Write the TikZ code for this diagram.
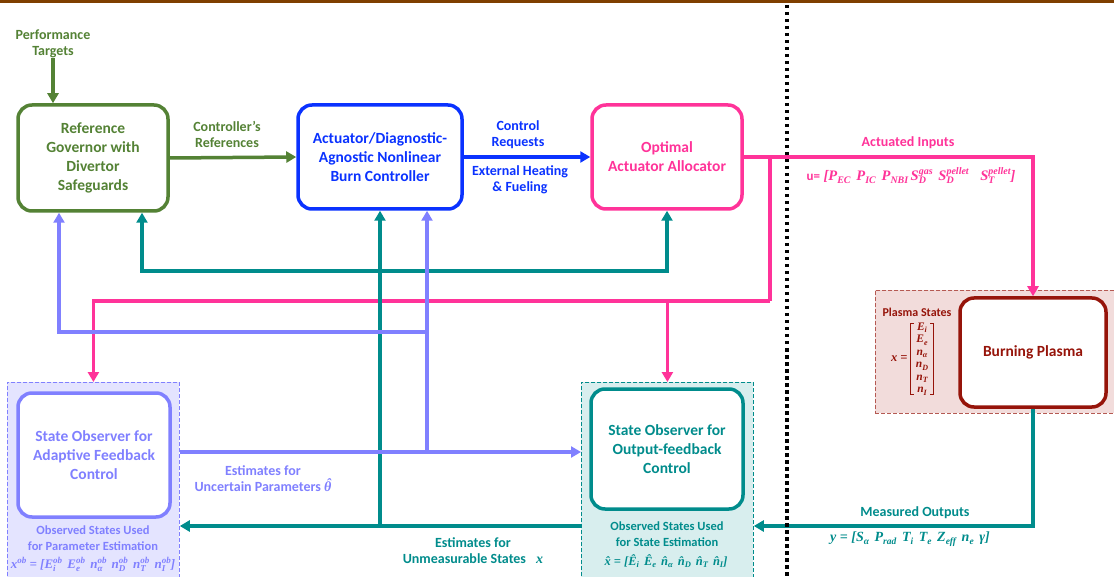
\documentclass[tikz,border=0pt]{standalone}
\usepackage{fontspec}
\setmainfont{Carlito}
\newfontfamily\fmath{Liberation Serif}
\usetikzlibrary{arrows.meta}
\definecolor{cgreen}{RGB}{84,130,53}
\definecolor{cblue}{RGB}{10,50,255}
\definecolor{cpink}{RGB}{255,51,153}
\definecolor{cteal}{RGB}{0,140,140}
\definecolor{clav}{RGB}{128,128,255}
\definecolor{cred}{RGB}{150,20,10}
\definecolor{cbrown}{RGB}{127,63,0}
\definecolor{lavfill}{RGB}{228,228,255}
\definecolor{tealfill}{RGB}{216,238,238}
\definecolor{pinkfill}{RGB}{242,220,219}
\newcommand\bxfont{\fontsize{15.5}{19}\selectfont\bfseries}
\newcommand\lbfont{\fontsize{14}{16}\selectfont\bfseries}
\newcommand\smfont{\fontsize{12.5}{16}\selectfont\bfseries}
\newcommand\psfont{\fontsize{12}{14}\selectfont\bfseries}
\newcommand\mi{\fmath\bfseries\itshape}
\newcommand\ssz{8}
\newcommand\sbs[1]{\raisebox{-0.22em}{\fontsize{\ssz}{\ssz}\selectfont #1}}
\newcommand\sps[1]{\raisebox{0.4em}{\fontsize{\ssz}{\ssz}\selectfont #1}}
\newcommand\sbsp[2]{\setbox0\hbox{\sps{#1}}\setbox2\hbox{\sbs{#2}}\ifdim\wd0>\wd2 \rlap{\box2}\box0 \else\rlap{\box0}\box2 \fi}
\newcommand\hatt[1]{\setbox0\hbox{#1}\rlap{\hbox to\wd0{\hss\kern0.12em\raisebox{\dimexpr\ht0-1.02ex\relax}{ˆ}\hss}}\box0}
\newcommand\gap{\hspace{0.4em}}
\begin{document}
\begin{tikzpicture}[x=1pt,y=-1pt,
  blk/.style={draw, line width=3.5pt, rounded corners=14pt, fill=white, align=center, inner sep=0pt, font=\bxfont},
  dbox/.style={draw, line width=0.8pt, dash pattern=on 4pt off 2pt, inner sep=0pt, anchor=north west},
  lbl/.style={align=center, inner sep=0pt, font=\lbfont},
  sml/.style={align=center, inner sep=0pt, font=\smfont},
  fml/.style={inner sep=0pt},
  arr/.style={line width=3.5pt, -{Triangle[length=10pt,width=11pt]}},
  ln/.style={line width=3.5pt}]
\clip (0,0) rectangle (1114,577);
\fill[white] (0,0) rectangle (1114,577);
\fill[cbrown] (0,0) rectangle (1114,3);

% dashed background groups
\node[dbox, draw=clav, fill=lavfill, minimum width=172pt, minimum height=210pt] (dashA) at (7,382) {};
\node[dbox, draw=cteal, fill=tealfill, minimum width=172pt, minimum height=210pt] (dashT) at (581,382) {};
\node[dbox, draw=cred!70, fill=pinkfill, minimum width=250pt, minimum height=123pt] (dashP) at (875,290) {};

% main blocks
\node[blk, draw=cgreen, text=cgreen, minimum width=150pt, minimum height=106pt] (gov) at (93,158) {Reference\\Governor with\\Divertor\\Safeguards};
\node[blk, draw=cblue, text=cblue, minimum width=164pt, minimum height=104pt] (act) at (380,157) {Actuator/Diagnostic-\\Agnostic Nonlinear\\Burn Controller};
\node[blk, draw=cpink, text=cpink, minimum width=150pt, minimum height=104pt] (alloc) at (667,157) {Optimal\\Actuator Allocator};
\node[blk, draw=cred, text=cred, minimum width=146pt, minimum height=109pt] (plasma) at (1033,352.5) {Burning Plasma};
\node[blk, draw=clav, text=clav, minimum width=152pt, minimum height=124pt] (obsA) at (94,455) {State Observer for\\Adaptive Feedback\\Control};
\node[blk, draw=cteal, text=cteal, minimum width=152pt, minimum height=120pt] (obsT) at (667,449) {State Observer for\\Output-feedback\\Control};

% labels
\node[lbl, text=cgreen] (perf) at (53,44) {Performance\\Targets};
\node[lbl, text=cgreen] (cref) at (227,134.5) {Controller's\\References};
\node[lbl, text=cblue] (creq) at (518,135) {Control\\Requests};
\node[lbl, text=cblue] (ext) at (520,180) {External Heating\\\& Fueling};
\node[lbl, text=cpink] (actin) at (908,143) {Actuated Inputs};
\node[fml, text=cpink, font={\fontsize{14.5}{16}\selectfont\mi\renewcommand\ssz{10}}] (uform) at (911,176) {{\normalfont\fontsize{13}{16}\selectfont\bfseries u=} [P\sbs{EC}\gap P\sbs{IC}\gap P\sbs{NBI}\,S\sbsp{gas}{D}\gap S\sbsp{pellet}{D}\gap\gap S\sbsp{pellet}{T}]};
\node[inner sep=0pt, text=cred, font=\psfont] (pst) at (917,312) {Plasma States};
\node[align=center, inner sep=0pt, text=cred, font={\fontsize{11.5}{12.5}\selectfont\mi\renewcommand\ssz{8}}] (xcol) at (922,359) {E\sbs{i}\\E\sbs{e}\\n\sbs{α}\\n\sbs{D}\\n\sbs{T}\\n\sbs{I}};
\node[inner sep=0pt, text=cred, font={\fontsize{12.5}{14}\selectfont\mi}, anchor=east] (xeq) at ([xshift=-8pt]xcol.west) {x =};
\draw[cred, line width=0.8pt] ([xshift=-2pt,yshift=-1pt]xcol.north west) -- ++(-3,0) |- ([xshift=-2pt,yshift=1pt]xcol.south west);
\draw[cred, line width=0.8pt] ([xshift=2pt,yshift=-1pt]xcol.north east) -- ++(3,0) |- ([xshift=2pt,yshift=1pt]xcol.south east);
\node[lbl, text=cteal] (meas) at (915,513) {Measured Outputs};
\node[fml, text=cteal, font={\fontsize{14}{16}\selectfont\mi\renewcommand\ssz{9.5}}] (yform) at (910,539) {y = [S\sbs{α}\gap P\sbs{rad}\gap T\sbs{i}\gap T\sbs{e}\gap Z\sbs{eff}\gap n\sbs{e}\gap γ]};
\node[lbl, text=clav] (estU) at (263,478.5) {Estimates for\\Uncertain Parameters {\mi\hatt{θ}}};
\node[lbl, text=cteal] (estM) at (473,550.5) {Estimates for\\Unmeasurable States \enspace{\mi x}};
\node[sml, text=clav] (osA) at (93,538) {Observed States Used\\for Parameter Estimation};
\node[fml, text=clav, font={\fontsize{13}{14}\selectfont\mi\renewcommand\ssz{9}}] (fA) at (93,564) {x\sps{ob} = [E\sbsp{ob}{i}\gap E\sbsp{ob}{e}\gap n\sbsp{ob}{α}\gap n\sbsp{ob}{D}\gap n\sbsp{ob}{T}\gap n\sbsp{ob}{I}]};
\node[sml, text=cteal] (osT) at (667,534.5) {Observed States Used\\for State Estimation};
\node[fml, text=cteal, font={\fontsize{12.5}{14}\selectfont\mi\renewcommand\ssz{8.5}}] (fT) at (666,561) {x̂ = [Ê\sbs{i}\gap Ê\sbs{e}\gap n̂\sbs{α}\gap n̂\sbs{D}\gap n̂\sbs{T}\gap n̂\sbs{I}]};

% junction coordinates
\coordinate (pj1) at (770,157);
\coordinate (pj2) at (770,301);
\coordinate (tJ) at (380,526);
\coordinate (tK) at (380,271);
\coordinate (lJ) at (427,452);
\coordinate (lK) at (427,332);

% forward path
\draw[arr, cgreen] (perf.south) -- (perf.south |- gov.north);
\draw[arr, cgreen] (gov.east) -- (act.west);
\draw[arr, cblue] (act.east) -- (alloc.west);
\draw[arr, cpink] (alloc.east) -| (plasma.north);
\draw[ln, cpink] (pj1) -- (pj2);
\draw[arr, cpink] (pj2) -| (dashA.north);
\draw[arr, cpink] (pj2 -| dashT.north) -- (dashT.north);

% teal feedback
\draw[arr, cteal] (plasma.south) |- (dashT.east |- tJ);
\draw[arr, cteal] (dashT.west |- tJ) -- (dashA.east |- tJ);
\draw[arr, cteal] (tJ) -- (act.south);
\draw[arr, cteal] (tK) -| ([xshift=49pt]gov.south);
\draw[arr, cteal] (tK) -| (alloc.south);

% lavender feedback
\draw[arr, clav] (dashA.east |- lJ) -- (dashT.west |- lJ);
\draw[arr, clav] (lJ) -- ([xshift=47pt]act.south);
\draw[arr, clav] (lK) -| ([xshift=-34pt]gov.south);

% divider
\draw[line width=3.5pt, dash pattern=on 3.5pt off 3.5pt] (787,5) coordinate (d1) -- (787,577) coordinate (d2);
\end{tikzpicture}
\end{document}
